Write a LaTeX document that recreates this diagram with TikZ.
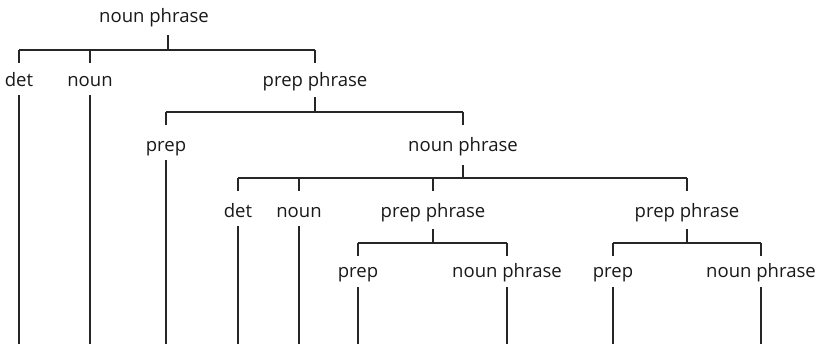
\documentclass[tikz,border=0pt]{standalone}
\usepackage{fontspec}
\setmainfont{Open Sans}
\begin{document}
\begin{tikzpicture}[x=1bp,y=-1bp,
  lbl/.style={inner sep=0pt, anchor=base, text=black!90, font=\fontsize{18.6}{22}\selectfont},
  tree/.style={line width=1.4bp, draw=black!85}]
\useasboundingbox (0,0) rectangle (821,344);
% labels
\node[lbl] (n0)   at (154,22)  {noun phrase};
\node[lbl] (d1)   at (19,86)   {det};
\node[lbl] (n1)   at (90,86)   {noun};
\node[lbl] (pp1)  at (315,86)  {prep phrase};
\node[lbl] (p2)   at (166,151) {prep};
\node[lbl] (np2)  at (463,151) {noun phrase};
\node[lbl] (d3)   at (238,217) {det};
\node[lbl] (n3)   at (299,217) {noun};
\node[lbl] (pp3a) at (433,217) {prep phrase};
\node[lbl] (pp3b) at (687,217) {prep phrase};
\node[lbl] (p4a)  at (358,277) {prep};
\node[lbl] (np4a) at (507,277) {noun phrase};
\node[lbl] (p4b)  at (613,277) {prep};
\node[lbl] (np4b) at (761,277) {noun phrase};
% bar levels and bottom edge
\coordinate (b0) at (0,50);
\coordinate (b1) at (0,112);
\coordinate (b2) at (0,178);
\coordinate (b3) at (0,243);
\coordinate (bot) at (0,344);
\coordinate (s0) at (168,35);
% level 0
\draw[tree] (s0) -- (s0 |- b0);
\draw[tree] (d1.base |- b0) -- (pp1.base |- b0);
\foreach \c in {d1,n1,pp1} \draw[tree] (\c.base |- b0) -- ++(0,13);
% level 1
\draw[tree] ([yshift=-11bp]pp1.base) -- (pp1.base |- b1);
\draw[tree] (p2.base |- b1) -- (np2.base |- b1);
\foreach \c in {p2,np2} \draw[tree] (\c.base |- b1) -- ++(0,13);
% level 2
\draw[tree] ([yshift=-14bp]np2.base) -- (np2.base |- b2);
\draw[tree] (d3.base |- b2) -- (pp3b.base |- b2);
\foreach \c in {d3,n3,pp3a,pp3b} \draw[tree] (\c.base |- b2) -- ++(0,13);
% level 3
\foreach \c in {pp3a,pp3b} \draw[tree] ([yshift=-12bp]\c.base) -- (\c.base |- b3);
\draw[tree] (p4a.base |- b3) -- (np4a.base |- b3);
\draw[tree] (p4b.base |- b3) -- (np4b.base |- b3);
\foreach \c in {p4a,np4a,p4b,np4b} \draw[tree] (\c.base |- b3) -- ++(0,13);
% terminal lines
\foreach \c in {d1,n1,p2,d3,n3} \draw[tree] ([yshift=-9bp]\c.base) -- (\c.base |- bot);
\foreach \c in {p4a,np4a,p4b,np4b} \draw[tree] ([yshift=-10bp]\c.base) -- (\c.base |- bot);
\end{tikzpicture}
\end{document}
